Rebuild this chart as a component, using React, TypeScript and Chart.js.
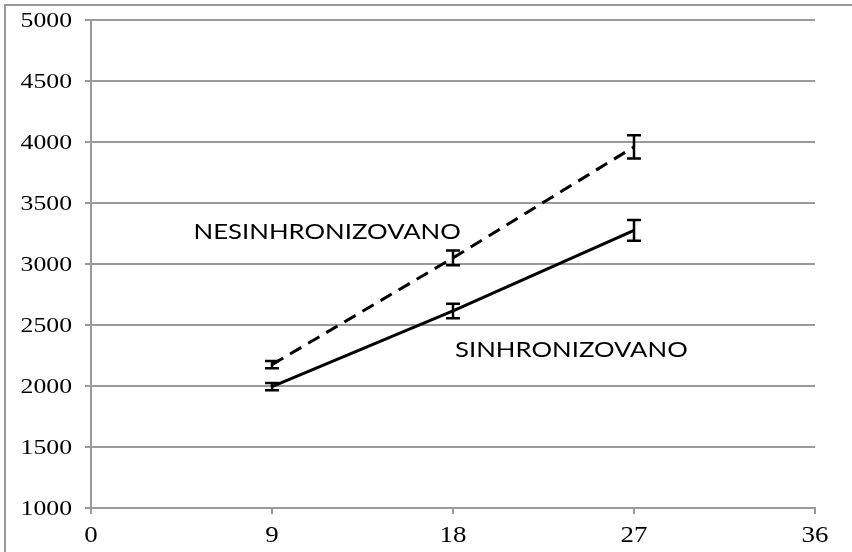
import React, { useEffect, useRef } from "react";
import { Chart, registerables } from "chart.js";

Chart.register(...registerables);

const xValues = [9, 18, 27];
const nesinValues = [2175, 3050, 3960];
const nesinErrors = [30, 60, 95];
const sinValues = [1995, 2615, 3275];
const sinErrors = [30, 60, 85];
const xTicks = [0, 9, 18, 27, 36];
const yMin = 1000;
const yMax = 5000;
const yStep = 500;
const labelNesin = "NESINHRONIZOVANO";
const labelSin = "SINHRONIZOVANO";
// label anchors in data coordinates (left edge, baseline)
const labelNesinAt = { x: 5.1, y: 3205 };
const labelSinAt = { x: 18.1, y: 2238 };

const W = 852;
const H = 552;
const STRETCH = 1.17;

export default function App() {
  const ref = useRef<HTMLCanvasElement | null>(null);

  useEffect(() => {
    const canvas = ref.current;
    if (!canvas) return;

    const stretchedText = (ctx: any, text: string, x: number, y: number, align: string) => {
      ctx.save();
      ctx.translate(x, y);
      ctx.scale(STRETCH, 1);
      ctx.textAlign = align;
      ctx.fillText(text, 0, 0);
      ctx.restore();
    };

    const errorBarPlugin = {
      id: "errorBars",
      afterDatasetsDraw(chart: any) {
        const ctx = chart.ctx;
        const xs = chart.scales.x;
        const ys = chart.scales.y;
        const sets = [
          { v: nesinValues, e: nesinErrors },
          { v: sinValues, e: sinErrors },
        ];
        ctx.save();
        ctx.strokeStyle = "#000";
        ctx.lineWidth = 2.5;
        ctx.setLineDash([]);
        sets.forEach((s) => {
          s.v.forEach((val, i) => {
            const px = xs.getPixelForValue(xValues[i]);
            const top = ys.getPixelForValue(val + s.e[i]);
            const bot = ys.getPixelForValue(val - s.e[i]);
            ctx.beginPath();
            ctx.moveTo(px, top);
            ctx.lineTo(px, bot);
            ctx.moveTo(px - 7, top);
            ctx.lineTo(px + 7, top);
            ctx.moveTo(px - 7, bot);
            ctx.lineTo(px + 7, bot);
            ctx.stroke();
          });
        });
        ctx.fillStyle = "#000";
        ctx.font = "22px Lato";
        ctx.textBaseline = "alphabetic";
        stretchedText(ctx, labelNesin, xs.getPixelForValue(labelNesinAt.x), ys.getPixelForValue(labelNesinAt.y), "left");
        stretchedText(ctx, labelSin, xs.getPixelForValue(labelSinAt.x), ys.getPixelForValue(labelSinAt.y), "left");

        // axis tick labels, positioned by the chart's scales
        ctx.font = "22px 'Liberation Serif', serif";
        ys.ticks.forEach((t: any) => {
          const py = ys.getPixelForValue(t.value);
          stretchedText(ctx, String(t.value), ys.right - 19, py + 7, "right");
        });
        ctx.font = "23px 'Liberation Serif', serif";
        xs.ticks.forEach((t: any) => {
          const px = xs.getPixelForValue(t.value);
          stretchedText(ctx, String(t.value), px, xs.top + 34, "center");
        });
        ctx.restore();
      },
      beforeDraw(chart: any) {
        const ctx = chart.ctx;
        ctx.save();
        ctx.fillStyle = "#fff";
        ctx.fillRect(0, 0, W, H);
        ctx.strokeStyle = "#9a9a9a";
        ctx.lineWidth = 2;
        ctx.beginPath();
        ctx.moveTo(5, H + 5);
        ctx.lineTo(5, 5);
        ctx.lineTo(W + 5, 5);
        ctx.stroke();
        ctx.restore();
      },
    };

    const chart = new Chart(canvas, {
      type: "line",
      data: {
        datasets: [
          {
            label: labelNesin,
            data: xValues.map((x, i) => ({ x, y: nesinValues[i] })),
            borderColor: "#000",
            borderWidth: 3,
            borderDash: [13, 8],
            pointRadius: 0,
            fill: false,
            tension: 0,
          },
          {
            label: labelSin,
            data: xValues.map((x, i) => ({ x, y: sinValues[i] })),
            borderColor: "#000",
            borderWidth: 3,
            pointRadius: 0,
            fill: false,
            tension: 0,
          },
        ],
      },
      options: {
        responsive: false,
        animation: false,
        devicePixelRatio: 1,
        layout: { padding: { left: 0, right: 37, top: 20, bottom: 0 } },
        plugins: { legend: { display: false }, tooltip: { enabled: false } },
        scales: {
          x: {
            type: "linear",
            min: 0,
            max: 36,
            afterBuildTicks(scale: any) {
              scale.ticks = xTicks.map((v) => ({ value: v }));
            },
            afterFit(scale: any) {
              scale.height = 44;
            },
            grid: {
              drawOnChartArea: false,
              drawTicks: true,
              tickLength: 6,
              color: "#9a9a9a",
              lineWidth: 2,
            },
            border: { display: true, color: "#9a9a9a", width: 2 },
            ticks: { display: false },
          },
          y: {
            type: "linear",
            min: yMin,
            max: yMax,
            afterFit(scale: any) {
              scale.width = 91;
            },
            grid: {
              drawOnChartArea: true,
              drawTicks: true,
              tickLength: 6,
              color: "#9a9a9a",
              lineWidth: 2,
            },
            border: { display: true, color: "#9a9a9a", width: 2 },
            ticks: { display: false, stepSize: yStep },
          },
        },
      },
      plugins: [errorBarPlugin],
    });

    return () => chart.destroy();
  }, []);

  return (
    <div style={{ position: "fixed", left: 0, top: 0, width: W, height: H, background: "#fff" }}>
      <canvas ref={ref} width={W} height={H} style={{ display: "block", width: W, height: H }} />
    </div>
  );
}
